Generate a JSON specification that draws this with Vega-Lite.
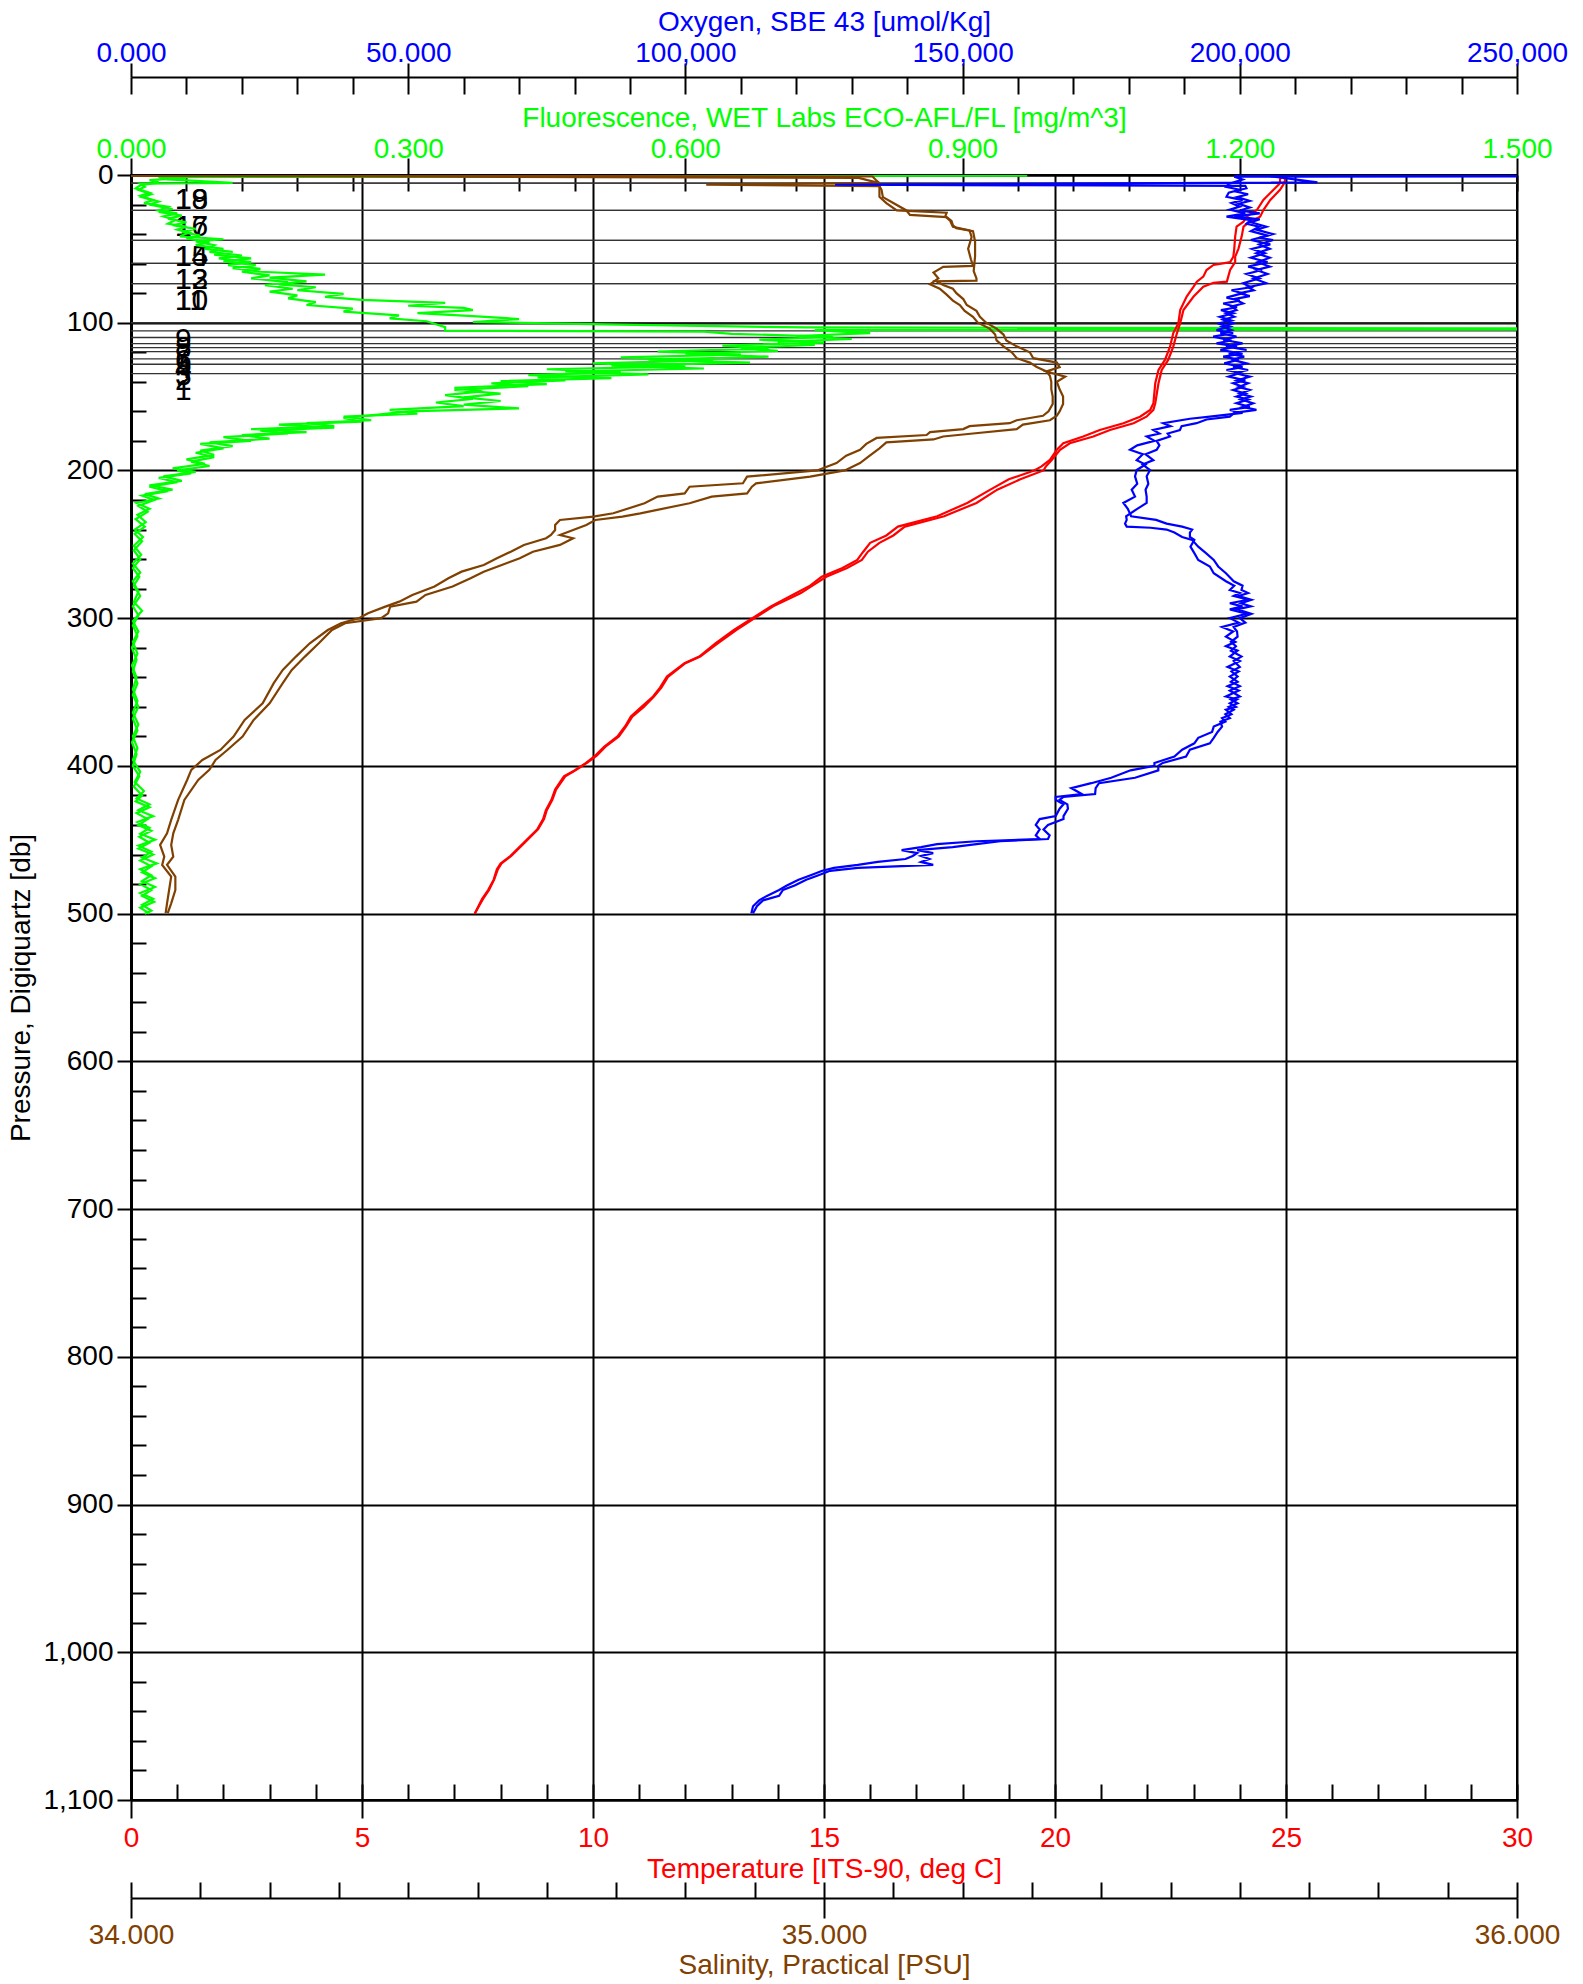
{
"$schema": "https://vega.github.io/schema/vega-lite/v6.json",
"width": 1386, "height": 1625,
"autosize": {"type": "none"},
"padding": {"left": 131, "top": 175, "right": 66, "bottom": 184},
"background": "white",
"config": {
  "view": {"stroke": "black", "strokeWidth": 2},
  "font": "Liberation Sans",
  "axis": {"labelFont": "Liberation Sans", "titleFont": "Liberation Sans", "labelFontSize": 28, "titleFontSize": 28, "titleFontWeight": "normal", "labelFlush": false, "labelOverlap": false, "tickColor": "black", "domainColor": "black", "tickWidth": 2, "domainWidth": 2, "grid": false}
},
"datasets": {
"bottles": [
{"b":"18","p":5.5},{"b":"19","p":5.5},{"b":"16","p":24},{"b":"17","p":24},{"b":"14","p":44.3},{"b":"15","p":44.3},{"b":"12","p":59.8},{"b":"13","p":59.8},{"b":"10","p":73.5},{"b":"11","p":73.5},
{"b":"9","p":100},{"b":"8","p":105.5},{"b":"7","p":110},{"b":"6","p":114.2},{"b":"5","p":116.8},{"b":"4","p":119.5},{"b":"3","p":124.5},{"b":"2","p":128.1},{"b":"1","p":134.4}
],
"fl": [
{"c":1,"p":0,"v":0.02},{"c":1,"p":0.4,"v":0.97},{"c":1,"p":0.9,"v":0.03},{"c":1,"p":2,"v":0.06},{"c":1,"p":3.5,"v":0.02},{"c":1,"p":5,"v":0.03},{"c":1,"p":7,"v":0.01},{"c":1,"p":9,"v":0.005},{"c":1,"p":12,"v":0.02},{"c":1,"p":14,"v":0.01},{"c":1,"p":17,"v":0.024},{"c":1,"p":19,"v":0.014},{"c":1,"p":21.5,"v":0.04},{"c":1,"p":24,"v":0.03},{"c":1,"p":26,"v":0.05},{"c":1,"p":28,"v":0.035},{"c":1,"p":30.5,"v":0.048},{"c":1,"p":33,"v":0.04},{"c":1,"p":35,"v":0.06},{"c":1,"p":37,"v":0.05},{"c":1,"p":39,"v":0.063},{"c":1,"p":41.5,"v":0.053},{"c":1,"p":43.5,"v":0.1},{"c":1,"p":45,"v":0.07},{"c":1,"p":47.5,"v":0.09},{"c":1,"p":50,"v":0.08},{"c":1,"p":52,"v":0.11},{"c":1,"p":54,"v":0.09},{"c":1,"p":56.5,"v":0.13},{"c":1,"p":58.5,"v":0.1},{"c":1,"p":61,"v":0.135},{"c":1,"p":63,"v":0.11},{"c":1,"p":65.5,"v":0.14},{"c":1,"p":67.5,"v":0.21},{"c":1,"p":69.5,"v":0.15},{"c":1,"p":72,"v":0.19},{"c":1,"p":74,"v":0.16},{"c":1,"p":76,"v":0.2},{"c":1,"p":78,"v":0.18},{"c":1,"p":80.5,"v":0.23},{"c":1,"p":82.5,"v":0.21},{"c":1,"p":84.5,"v":0.25},{"c":1,"p":86.5,"v":0.34},{"c":1,"p":88.5,"v":0.3},{"c":1,"p":90,"v":0.36},{"c":1,"p":91.5,"v":0.37},{"c":1,"p":93.5,"v":0.31},{"c":1,"p":95.5,"v":0.37},{"c":1,"p":97.5,"v":0.42},{"c":1,"p":99.5,"v":0.37},{"c":1,"p":101.3,"v":0.53},{"c":1,"p":103.2,"v":0.73},{"c":1,"p":104.3,"v":2.0},{"c":1,"p":105,"v":0.74},{"c":1,"p":107,"v":0.8},{"c":1,"p":109,"v":0.72},{"c":1,"p":111,"v":0.78},{"c":1,"p":113,"v":0.7},{"c":1,"p":115,"v":0.74},{"c":1,"p":117,"v":0.66},{"c":1,"p":119,"v":0.7},{"c":1,"p":121,"v":0.6},{"c":1,"p":123,"v":0.69},{"c":1,"p":125,"v":0.56},{"c":1,"p":127,"v":0.67},{"c":1,"p":129,"v":0.52},{"c":1,"p":131,"v":0.62},{"c":1,"p":133,"v":0.47},{"c":1,"p":135,"v":0.56},{"c":1,"p":137,"v":0.44},{"c":1,"p":139,"v":0.47},{"c":1,"p":141,"v":0.39},{"c":1,"p":143,"v":0.43},{"c":1,"p":145.5,"v":0.35},{"c":1,"p":148,"v":0.4},{"c":1,"p":150.5,"v":0.36},{"c":1,"p":153,"v":0.4},{"c":1,"p":155.5,"v":0.36},{"c":1,"p":158,"v":0.42},{"c":1,"p":160,"v":0.3},{"c":1,"p":162,"v":0.27},{"c":1,"p":164.5,"v":0.23},{"c":1,"p":167,"v":0.25},{"c":1,"p":169,"v":0.16},{"c":1,"p":171,"v":0.22},{"c":1,"p":173,"v":0.14},{"c":1,"p":175,"v":0.17},{"c":1,"p":177.5,"v":0.1},{"c":1,"p":180,"v":0.13},{"c":1,"p":182,"v":0.075},{"c":1,"p":185,"v":0.1},{"c":1,"p":188,"v":0.07},{"c":1,"p":191,"v":0.09},{"c":1,"p":194,"v":0.065},{"c":1,"p":197,"v":0.085},{"c":1,"p":200,"v":0.05},{"c":1,"p":202,"v":0.065},{"c":1,"p":205,"v":0.03},{"c":1,"p":208,"v":0.05},{"c":1,"p":211,"v":0.02},{"c":1,"p":214,"v":0.04},{"c":1,"p":217,"v":0.012},{"c":1,"p":220,"v":0.025},{"c":1,"p":224,"v":0.008},{"c":1,"p":228,"v":0.018},{"c":1,"p":233,"v":0.005},{"c":1,"p":238,"v":0.015},{"c":1,"p":243,"v":0.004},{"c":1,"p":248,"v":0.012},{"c":1,"p":254,"v":0.003},{"c":1,"p":260,"v":0.01},{"c":1,"p":266,"v":0.002},{"c":1,"p":272,"v":0.009},{"c":1,"p":278,"v":0.003},{"c":1,"p":285,"v":0.01},{"c":1,"p":292,"v":0.002},{"c":1,"p":298,"v":0.008},{"c":1,"p":305,"v":0.002},{"c":1,"p":312,"v":0.007},{"c":1,"p":320,"v":0.001},{"c":1,"p":328,"v":0.006},{"c":1,"p":336,"v":0.002},{"c":1,"p":344,"v":0.007},{"c":1,"p":352,"v":0.002},{"c":1,"p":360,"v":0.008},{"c":1,"p":368,"v":0.002},{"c":1,"p":376,"v":0.007},{"c":1,"p":384,"v":0.001},{"c":1,"p":392,"v":0.006},{"c":1,"p":400,"v":0.002},{"c":1,"p":407,"v":0.009},{"c":1,"p":414,"v":0.003},{"c":1,"p":420,"v":0.012},{"c":1,"p":424,"v":0.005},{"c":1,"p":428,"v":0.02},{"c":1,"p":432,"v":0.006},{"c":1,"p":436,"v":0.018},{"c":1,"p":440,"v":0.008},{"c":1,"p":444,"v":0.022},{"c":1,"p":448,"v":0.009},{"c":1,"p":452,"v":0.02},{"c":1,"p":456,"v":0.008},{"c":1,"p":460,"v":0.024},{"c":1,"p":464,"v":0.01},{"c":1,"p":468,"v":0.022},{"c":1,"p":472,"v":0.012},{"c":1,"p":476,"v":0.026},{"c":1,"p":480,"v":0.01},{"c":1,"p":484,"v":0.022},{"c":1,"p":488,"v":0.012},{"c":1,"p":492,"v":0.025},{"c":1,"p":496,"v":0.01},{"c":1,"p":500,"v":0.02},
{"c":2,"p":0,"v":0.01},{"c":2,"p":0.8,"v":0.5},{"c":2,"p":1.4,"v":0.03},{"c":2,"p":3,"v":0.04},{"c":2,"p":5.3,"v":0.11},{"c":2,"p":5.8,"v":0.01},{"c":2,"p":8,"v":0.015},{"c":2,"p":10,"v":0.008},{"c":2,"p":13,"v":0.022},{"c":2,"p":15,"v":0.012},{"c":2,"p":18,"v":0.03},{"c":2,"p":20,"v":0.02},{"c":2,"p":23,"v":0.045},{"c":2,"p":25,"v":0.03},{"c":2,"p":27.5,"v":0.055},{"c":2,"p":29.5,"v":0.04},{"c":2,"p":32,"v":0.06},{"c":2,"p":34,"v":0.045},{"c":2,"p":36.5,"v":0.07},{"c":2,"p":38.5,"v":0.055},{"c":2,"p":41,"v":0.075},{"c":2,"p":43,"v":0.06},{"c":2,"p":45.5,"v":0.085},{"c":2,"p":47.5,"v":0.07},{"c":2,"p":50,"v":0.1},{"c":2,"p":52,"v":0.085},{"c":2,"p":54.5,"v":0.12},{"c":2,"p":56.5,"v":0.095},{"c":2,"p":59,"v":0.13},{"c":2,"p":61,"v":0.105},{"c":2,"p":63.5,"v":0.14},{"c":2,"p":65.5,"v":0.12},{"c":2,"p":68,"v":0.15},{"c":2,"p":70,"v":0.13},{"c":2,"p":72.5,"v":0.17},{"c":2,"p":74.5,"v":0.145},{"c":2,"p":77,"v":0.175},{"c":2,"p":79,"v":0.15},{"c":2,"p":81.5,"v":0.18},{"c":2,"p":83.5,"v":0.17},{"c":2,"p":86,"v":0.2},{"c":2,"p":88,"v":0.19},{"c":2,"p":90.5,"v":0.24},{"c":2,"p":92.5,"v":0.23},{"c":2,"p":95,"v":0.29},{"c":2,"p":97,"v":0.28},{"c":2,"p":99,"v":0.32},{"c":2,"p":101,"v":0.33},{"c":2,"p":103,"v":0.34},{"c":2,"p":105.3,"v":0.34},{"c":2,"p":106,"v":0.62},{"c":2,"p":107.5,"v":0.65},{"c":2,"p":109.5,"v":0.76},{"c":2,"p":111.5,"v":0.68},{"c":2,"p":113.5,"v":0.75},{"c":2,"p":115.5,"v":0.64},{"c":2,"p":117.5,"v":0.69},{"c":2,"p":119.5,"v":0.57},{"c":2,"p":121.5,"v":0.66},{"c":2,"p":123.5,"v":0.53},{"c":2,"p":125.5,"v":0.63},{"c":2,"p":127.5,"v":0.5},{"c":2,"p":129.5,"v":0.6},{"c":2,"p":131.5,"v":0.45},{"c":2,"p":133.5,"v":0.53},{"c":2,"p":135.5,"v":0.43},{"c":2,"p":137.5,"v":0.52},{"c":2,"p":139.5,"v":0.4},{"c":2,"p":141.5,"v":0.45},{"c":2,"p":144,"v":0.35},{"c":2,"p":146.5,"v":0.38},{"c":2,"p":149,"v":0.34},{"c":2,"p":151.5,"v":0.37},{"c":2,"p":154,"v":0.33},{"c":2,"p":156.5,"v":0.36},{"c":2,"p":159,"v":0.28},{"c":2,"p":161.5,"v":0.31},{"c":2,"p":163.5,"v":0.23},{"c":2,"p":166,"v":0.26},{"c":2,"p":168,"v":0.19},{"c":2,"p":170,"v":0.22},{"c":2,"p":172,"v":0.13},{"c":2,"p":174,"v":0.19},{"c":2,"p":176,"v":0.12},{"c":2,"p":178.5,"v":0.15},{"c":2,"p":181,"v":0.085},{"c":2,"p":183.5,"v":0.11},{"c":2,"p":186.5,"v":0.075},{"c":2,"p":189.5,"v":0.09},{"c":2,"p":192.5,"v":0.06},{"c":2,"p":195.5,"v":0.08},{"c":2,"p":198.5,"v":0.045},{"c":2,"p":201,"v":0.07},{"c":2,"p":204,"v":0.035},{"c":2,"p":207,"v":0.055},{"c":2,"p":210,"v":0.02},{"c":2,"p":213,"v":0.045},{"c":2,"p":216,"v":0.015},{"c":2,"p":219,"v":0.03},{"c":2,"p":222,"v":0.006},{"c":2,"p":226,"v":0.02},{"c":2,"p":230,"v":0.007},{"c":2,"p":235,"v":0.016},{"c":2,"p":240,"v":0.004},{"c":2,"p":245,"v":0.013},{"c":2,"p":251,"v":0.003},{"c":2,"p":257,"v":0.011},{"c":2,"p":263,"v":0.002},{"c":2,"p":269,"v":0.01},{"c":2,"p":275,"v":0.002},{"c":2,"p":282,"v":0.008},{"c":2,"p":289,"v":0.003},{"c":2,"p":295,"v":0.012},{"c":2,"p":302,"v":0.002},{"c":2,"p":309,"v":0.008},{"c":2,"p":316,"v":0.002},{"c":2,"p":324,"v":0.007},{"c":2,"p":332,"v":0.001},{"c":2,"p":340,"v":0.006},{"c":2,"p":348,"v":0.002},{"c":2,"p":356,"v":0.007},{"c":2,"p":364,"v":0.002},{"c":2,"p":372,"v":0.008},{"c":2,"p":380,"v":0.002},{"c":2,"p":388,"v":0.007},{"c":2,"p":396,"v":0.002},{"c":2,"p":404,"v":0.01},{"c":2,"p":411,"v":0.004},{"c":2,"p":417,"v":0.014},{"c":2,"p":422,"v":0.006},{"c":2,"p":426,"v":0.02},{"c":2,"p":430,"v":0.008},{"c":2,"p":434,"v":0.024},{"c":2,"p":438,"v":0.007},{"c":2,"p":442,"v":0.02},{"c":2,"p":446,"v":0.01},{"c":2,"p":450,"v":0.026},{"c":2,"p":454,"v":0.008},{"c":2,"p":458,"v":0.022},{"c":2,"p":462,"v":0.012},{"c":2,"p":466,"v":0.028},{"c":2,"p":470,"v":0.01},{"c":2,"p":474,"v":0.022},{"c":2,"p":478,"v":0.012},{"c":2,"p":482,"v":0.026},{"c":2,"p":486,"v":0.01},{"c":2,"p":490,"v":0.024},{"c":2,"p":494,"v":0.012},{"c":2,"p":498,"v":0.022},{"c":2,"p":500,"v":0.015}
],
"sa": [
{"c":1,"p":0.2,"v":33.9},{"c":1,"p":1.0,"v":35.07},{"c":1,"p":3.4,"v":35.075},{"c":1,"p":5.6,"v":35.08},{"c":1,"p":10,"v":35.08},{"c":1,"p":14.7,"v":35.08},{"c":1,"p":19,"v":35.09},{"c":1,"p":24,"v":35.105},{"c":1,"p":25.5,"v":35.177},{"c":1,"p":28,"v":35.175},{"c":1,"p":31,"v":35.182},{"c":1,"p":35,"v":35.186},{"c":1,"p":37.5,"v":35.21},{"c":1,"p":42,"v":35.213},{"c":1,"p":50,"v":35.208},{"c":1,"p":57,"v":35.212},{"c":1,"p":61.5,"v":35.215},{"c":1,"p":62.2,"v":35.172},{"c":1,"p":66,"v":35.158},{"c":1,"p":70,"v":35.165},{"c":1,"p":74,"v":35.153},{"c":1,"p":77,"v":35.167},{"c":1,"p":81,"v":35.177},{"c":1,"p":85,"v":35.186},{"c":1,"p":88,"v":35.196},{"c":1,"p":92,"v":35.203},{"c":1,"p":96,"v":35.215},{"c":1,"p":100,"v":35.222},{"c":1,"p":104,"v":35.239},{"c":1,"p":108,"v":35.247},{"c":1,"p":112,"v":35.249},{"c":1,"p":116,"v":35.259},{"c":1,"p":120,"v":35.271},{"c":1,"p":124,"v":35.278},{"c":1,"p":127,"v":35.297},{"c":1,"p":130,"v":35.307},{"c":1,"p":133,"v":35.321},{"c":1,"p":136,"v":35.326},{"c":1,"p":140,"v":35.328},{"c":1,"p":145,"v":35.328},{"c":1,"p":150,"v":35.33},{"c":1,"p":155,"v":35.33},{"c":1,"p":160,"v":35.324},{"c":1,"p":163,"v":35.316},{"c":1,"p":166,"v":35.278},{"c":1,"p":168,"v":35.268},{"c":1,"p":170,"v":35.21},{"c":1,"p":172,"v":35.201},{"c":1,"p":174,"v":35.153},{"c":1,"p":176,"v":35.148},{"c":1,"p":178,"v":35.076},{"c":1,"p":182,"v":35.061},{"c":1,"p":186,"v":35.052},{"c":1,"p":190,"v":35.032},{"c":1,"p":195,"v":35.018},{"c":1,"p":200,"v":34.99},{"c":1,"p":204.2,"v":34.889},{"c":1,"p":208.7,"v":34.883},{"c":1,"p":211,"v":34.806},{"c":1,"p":215.5,"v":34.799},{"c":1,"p":217.7,"v":34.76},{"c":1,"p":222.2,"v":34.741},{"c":1,"p":229,"v":34.696},{"c":1,"p":231.2,"v":34.667},{"c":1,"p":233.5,"v":34.619},{"c":1,"p":236.9,"v":34.612},{"c":1,"p":240.3,"v":34.612},{"c":1,"p":243.7,"v":34.606},{"c":1,"p":245.9,"v":34.599},{"c":1,"p":250.4,"v":34.567},{"c":1,"p":255,"v":34.548},{"c":1,"p":259.4,"v":34.528},{"c":1,"p":264,"v":34.509},{"c":1,"p":268.5,"v":34.477},{"c":1,"p":273,"v":34.458},{"c":1,"p":278.6,"v":34.438},{"c":1,"p":284.3,"v":34.406},{"c":1,"p":288.8,"v":34.387},{"c":1,"p":292.2,"v":34.367},{"c":1,"p":296.7,"v":34.342},{"c":1,"p":300,"v":34.329},{"c":1,"p":303.4,"v":34.303},{"c":1,"p":308,"v":34.284},{"c":1,"p":317,"v":34.258},{"c":1,"p":326,"v":34.238},{"c":1,"p":335,"v":34.219},{"c":1,"p":344,"v":34.206},{"c":1,"p":357.6,"v":34.19},{"c":1,"p":368.9,"v":34.164},{"c":1,"p":380.1,"v":34.148},{"c":1,"p":389.2,"v":34.129},{"c":1,"p":396,"v":34.103},{"c":1,"p":402.7,"v":34.087},{"c":1,"p":409.5,"v":34.081},{"c":1,"p":423,"v":34.068},{"c":1,"p":436.5,"v":34.058},{"c":1,"p":445.6,"v":34.052},{"c":1,"p":453.5,"v":34.042},{"c":1,"p":461.4,"v":34.048},{"c":1,"p":467,"v":34.045},{"c":1,"p":474.9,"v":34.058},{"c":1,"p":484,"v":34.055},{"c":1,"p":493,"v":34.052},{"c":1,"p":499.7,"v":34.05},
{"c":2,"p":0.4,"v":33.9},{"c":2,"p":2.0,"v":35.05},{"c":2,"p":5.5,"v":35.08},{"c":2,"p":6.5,"v":34.83},{"c":2,"p":7.5,"v":35.08},{"c":2,"p":10,"v":35.083},{"c":2,"p":15,"v":35.085},{"c":2,"p":19,"v":35.1},{"c":2,"p":24,"v":35.119},{"c":2,"p":27,"v":35.124},{"c":2,"p":28.5,"v":35.177},{"c":2,"p":31,"v":35.184},{"c":2,"p":34,"v":35.186},{"c":2,"p":36,"v":35.191},{"c":2,"p":38,"v":35.215},{"c":2,"p":45,"v":35.218},{"c":2,"p":55,"v":35.218},{"c":2,"p":65,"v":35.216},{"c":2,"p":70,"v":35.22},{"c":2,"p":71.5,"v":35.22},{"c":2,"p":72,"v":35.162},{"c":2,"p":74.5,"v":35.172},{"c":2,"p":77,"v":35.186},{"c":2,"p":80,"v":35.191},{"c":2,"p":84,"v":35.201},{"c":2,"p":88,"v":35.206},{"c":2,"p":92,"v":35.22},{"c":2,"p":96,"v":35.225},{"c":2,"p":100,"v":35.234},{"c":2,"p":104,"v":35.249},{"c":2,"p":108,"v":35.259},{"c":2,"p":112,"v":35.263},{"c":2,"p":116,"v":35.278},{"c":2,"p":120,"v":35.297},{"c":2,"p":124,"v":35.302},{"c":2,"p":127,"v":35.336},{"c":2,"p":130,"v":35.34},{"c":2,"p":133,"v":35.321},{"c":2,"p":136.5,"v":35.348},{"c":2,"p":140,"v":35.336},{"c":2,"p":145,"v":35.34},{"c":2,"p":150,"v":35.345},{"c":2,"p":155,"v":35.345},{"c":2,"p":160,"v":35.34},{"c":2,"p":163,"v":35.336},{"c":2,"p":166,"v":35.326},{"c":2,"p":169,"v":35.287},{"c":2,"p":172,"v":35.278},{"c":2,"p":175,"v":35.215},{"c":2,"p":177,"v":35.172},{"c":2,"p":179,"v":35.158},{"c":2,"p":181,"v":35.09},{"c":2,"p":185,"v":35.08},{"c":2,"p":190,"v":35.066},{"c":2,"p":195,"v":35.052},{"c":2,"p":200,"v":35.03},{"c":2,"p":204.2,"v":34.98},{"c":2,"p":208.7,"v":34.902},{"c":2,"p":211,"v":34.896},{"c":2,"p":215.5,"v":34.889},{"c":2,"p":217.7,"v":34.838},{"c":2,"p":222.2,"v":34.806},{"c":2,"p":229,"v":34.735},{"c":2,"p":231.2,"v":34.709},{"c":2,"p":233.5,"v":34.67},{"c":2,"p":236.9,"v":34.657},{"c":2,"p":240.3,"v":34.638},{"c":2,"p":243.7,"v":34.619},{"c":2,"p":245.9,"v":34.638},{"c":2,"p":250.4,"v":34.619},{"c":2,"p":255,"v":34.58},{"c":2,"p":259.4,"v":34.561},{"c":2,"p":264,"v":34.535},{"c":2,"p":268.5,"v":34.509},{"c":2,"p":273,"v":34.49},{"c":2,"p":278.6,"v":34.464},{"c":2,"p":284.3,"v":34.425},{"c":2,"p":288.8,"v":34.412},{"c":2,"p":292.2,"v":34.374},{"c":2,"p":296.7,"v":34.371},{"c":2,"p":300,"v":34.361},{"c":2,"p":303.4,"v":34.309},{"c":2,"p":308,"v":34.29},{"c":2,"p":317,"v":34.271},{"c":2,"p":326,"v":34.251},{"c":2,"p":335,"v":34.232},{"c":2,"p":344,"v":34.219},{"c":2,"p":357.6,"v":34.2},{"c":2,"p":368.9,"v":34.177},{"c":2,"p":380.1,"v":34.161},{"c":2,"p":389.2,"v":34.139},{"c":2,"p":396,"v":34.122},{"c":2,"p":402.7,"v":34.113},{"c":2,"p":409.5,"v":34.097},{"c":2,"p":423,"v":34.077},{"c":2,"p":436.5,"v":34.068},{"c":2,"p":445.6,"v":34.061},{"c":2,"p":453.5,"v":34.058},{"c":2,"p":461.4,"v":34.061},{"c":2,"p":467,"v":34.052},{"c":2,"p":474.9,"v":34.064},{"c":2,"p":484,"v":34.064},{"c":2,"p":493,"v":34.058},{"c":2,"p":499.7,"v":34.053}
],
"te": [
{"c":1,"p":0.3,"v":24.9},{"c":1,"p":3.4,"v":24.87},{"c":1,"p":5.6,"v":24.87},{"c":1,"p":10,"v":24.73},{"c":1,"p":16.9,"v":24.51},{"c":1,"p":23.7,"v":24.37},{"c":1,"p":28.2,"v":24.15},{"c":1,"p":31.6,"v":24.08},{"c":1,"p":35,"v":23.93},{"c":1,"p":41.7,"v":23.9},{"c":1,"p":50,"v":23.88},{"c":1,"p":55.3,"v":23.86},{"c":1,"p":59,"v":23.79},{"c":1,"p":60.9,"v":23.43},{"c":1,"p":64.3,"v":23.28},{"c":1,"p":68.8,"v":23.21},{"c":1,"p":72.2,"v":23.07},{"c":1,"p":75.6,"v":23.0},{"c":1,"p":82.3,"v":22.85},{"c":1,"p":91.4,"v":22.71},{"c":1,"p":100.4,"v":22.67},{"c":1,"p":107,"v":22.56},{"c":1,"p":116.2,"v":22.49},{"c":1,"p":125.2,"v":22.38},{"c":1,"p":132,"v":22.24},{"c":1,"p":141,"v":22.17},{"c":1,"p":154.5,"v":22.13},{"c":1,"p":159,"v":22.06},{"c":1,"p":163.6,"v":21.84},{"c":1,"p":168,"v":21.48},{"c":1,"p":172.6,"v":20.97},{"c":1,"p":177,"v":20.61},{"c":1,"p":181.6,"v":20.18},{"c":1,"p":186,"v":20.04},{"c":1,"p":192.9,"v":19.89},{"c":1,"p":197.4,"v":19.7},{"c":1,"p":200,"v":19.55},{"c":1,"p":206,"v":19.0},{"c":1,"p":213,"v":18.6},{"c":1,"p":222,"v":18.1},{"c":1,"p":231,"v":17.45},{"c":1,"p":238,"v":16.6},{"c":1,"p":244,"v":16.35},{"c":1,"p":249,"v":16.0},{"c":1,"p":255,"v":15.85},{"c":1,"p":260.6,"v":15.72},{"c":1,"p":266,"v":15.4},{"c":1,"p":272,"v":14.95},{"c":1,"p":278,"v":14.7},{"c":1,"p":283,"v":14.4},{"c":1,"p":292,"v":13.85},{"c":1,"p":300,"v":13.45},{"c":1,"p":308,"v":13.05},{"c":1,"p":317,"v":12.65},{"c":1,"p":326,"v":12.3},{"c":1,"p":330.5,"v":11.98},{"c":1,"p":339.5,"v":11.6},{"c":1,"p":347,"v":11.45},{"c":1,"p":353,"v":11.3},{"c":1,"p":360,"v":11.05},{"c":1,"p":366.6,"v":10.82},{"c":1,"p":373,"v":10.7},{"c":1,"p":380,"v":10.53},{"c":1,"p":387,"v":10.24},{"c":1,"p":393,"v":10.05},{"c":1,"p":398,"v":9.85},{"c":1,"p":403,"v":9.6},{"c":1,"p":407,"v":9.37},{"c":1,"p":416,"v":9.18},{"c":1,"p":423,"v":9.1},{"c":1,"p":430,"v":8.98},{"c":1,"p":436,"v":8.92},{"c":1,"p":443,"v":8.79},{"c":1,"p":452,"v":8.5},{"c":1,"p":461,"v":8.21},{"c":1,"p":466,"v":8.0},{"c":1,"p":470,"v":7.92},{"c":1,"p":477,"v":7.85},{"c":1,"p":484,"v":7.73},{"c":1,"p":490,"v":7.6},{"c":1,"p":495,"v":7.52},{"c":1,"p":500,"v":7.44},
{"c":2,"p":0.3,"v":24.95},{"c":2,"p":3.4,"v":24.98},{"c":2,"p":5.6,"v":24.96},{"c":2,"p":10,"v":24.87},{"c":2,"p":16.9,"v":24.66},{"c":2,"p":23.7,"v":24.51},{"c":2,"p":28.2,"v":24.44},{"c":2,"p":31.6,"v":24.22},{"c":2,"p":35,"v":24.08},{"c":2,"p":41.7,"v":24.04},{"c":2,"p":50,"v":23.97},{"c":2,"p":55.3,"v":23.9},{"c":2,"p":59,"v":23.9},{"c":2,"p":60.9,"v":23.86},{"c":2,"p":64.3,"v":23.79},{"c":2,"p":68.8,"v":23.75},{"c":2,"p":72.2,"v":23.72},{"c":2,"p":73,"v":23.43},{"c":2,"p":75.6,"v":23.21},{"c":2,"p":82.3,"v":23.0},{"c":2,"p":91.4,"v":22.78},{"c":2,"p":100.4,"v":22.71},{"c":2,"p":107,"v":22.64},{"c":2,"p":116.2,"v":22.56},{"c":2,"p":125.2,"v":22.45},{"c":2,"p":132,"v":22.31},{"c":2,"p":141,"v":22.24},{"c":2,"p":154.5,"v":22.17},{"c":2,"p":159,"v":22.13},{"c":2,"p":163.6,"v":21.98},{"c":2,"p":168,"v":21.7},{"c":2,"p":172.6,"v":21.19},{"c":2,"p":177,"v":20.83},{"c":2,"p":181.6,"v":20.32},{"c":2,"p":186,"v":20.11},{"c":2,"p":192.9,"v":19.93},{"c":2,"p":197.4,"v":19.8},{"c":2,"p":200,"v":19.75},{"c":2,"p":206,"v":19.25},{"c":2,"p":213,"v":18.75},{"c":2,"p":222,"v":18.3},{"c":2,"p":231,"v":17.6},{"c":2,"p":238,"v":16.75},{"c":2,"p":244,"v":16.5},{"c":2,"p":249,"v":16.2},{"c":2,"p":255,"v":15.95},{"c":2,"p":260.6,"v":15.82},{"c":2,"p":266,"v":15.5},{"c":2,"p":272,"v":15.05},{"c":2,"p":278,"v":14.75},{"c":2,"p":283,"v":14.5},{"c":2,"p":292,"v":13.9},{"c":2,"p":300,"v":13.5},{"c":2,"p":308,"v":13.1},{"c":2,"p":317,"v":12.7},{"c":2,"p":326,"v":12.32},{"c":2,"p":330.5,"v":12.0},{"c":2,"p":339.5,"v":11.63},{"c":2,"p":347,"v":11.48},{"c":2,"p":353,"v":11.32},{"c":2,"p":360,"v":11.1},{"c":2,"p":366.6,"v":10.85},{"c":2,"p":373,"v":10.72},{"c":2,"p":380,"v":10.56},{"c":2,"p":387,"v":10.27},{"c":2,"p":393,"v":10.08},{"c":2,"p":398,"v":9.87},{"c":2,"p":403,"v":9.62},{"c":2,"p":407,"v":9.4},{"c":2,"p":416,"v":9.2},{"c":2,"p":423,"v":9.12},{"c":2,"p":430,"v":9.0},{"c":2,"p":436,"v":8.94},{"c":2,"p":443,"v":8.81},{"c":2,"p":452,"v":8.52},{"c":2,"p":461,"v":8.23},{"c":2,"p":466,"v":8.02},{"c":2,"p":470,"v":7.94},{"c":2,"p":477,"v":7.86},{"c":2,"p":484,"v":7.75},{"c":2,"p":490,"v":7.62},{"c":2,"p":495,"v":7.53},{"c":2,"p":500,"v":7.44}
],
"ox": [
{"c":1,"p":0.2,"v":199},{"c":1,"p":0.6,"v":300},{"c":1,"p":1.2,"v":199},{"c":1,"p":3,"v":200.5},{"c":1,"p":6,"v":198},{"c":1,"p":8,"v":197.5},{"c":1,"p":10,"v":200},{"c":1,"p":12,"v":198},{"c":1,"p":14.7,"v":197.6},{"c":1,"p":17,"v":200.5},{"c":1,"p":19,"v":198.5},{"c":1,"p":21.4,"v":200},{"c":1,"p":23.5,"v":198.2},{"c":1,"p":26,"v":201},{"c":1,"p":28.2,"v":197.6},{"c":1,"p":30.5,"v":202},{"c":1,"p":33,"v":201.2},{"c":1,"p":35,"v":203.5},{"c":1,"p":38,"v":202},{"c":1,"p":41,"v":205},{"c":1,"p":44,"v":202},{"c":1,"p":47,"v":205.5},{"c":1,"p":50,"v":202.2},{"c":1,"p":53,"v":204.5},{"c":1,"p":56,"v":202},{"c":1,"p":59,"v":205},{"c":1,"p":62,"v":201.5},{"c":1,"p":64.3,"v":204},{"c":1,"p":67,"v":201.2},{"c":1,"p":70,"v":203.5},{"c":1,"p":73.3,"v":200.6},{"c":1,"p":76,"v":202},{"c":1,"p":78,"v":198.5},{"c":1,"p":80,"v":200.5},{"c":1,"p":83,"v":197.6},{"c":1,"p":85,"v":200},{"c":1,"p":87,"v":197},{"c":1,"p":89.5,"v":199.5},{"c":1,"p":91.5,"v":196.6},{"c":1,"p":93.6,"v":198.8},{"c":1,"p":96,"v":196.4},{"c":1,"p":98.5,"v":198.5},{"c":1,"p":100.5,"v":196},{"c":1,"p":102.6,"v":198.2},{"c":1,"p":105,"v":195.8},{"c":1,"p":107,"v":198.8},{"c":1,"p":109.4,"v":195.2},{"c":1,"p":112,"v":198.5},{"c":1,"p":114,"v":195.8},{"c":1,"p":116,"v":199.5},{"c":1,"p":118.4,"v":196.5},{"c":1,"p":121,"v":200.5},{"c":1,"p":123,"v":197},{"c":1,"p":125,"v":199.8},{"c":1,"p":127.5,"v":197.2},{"c":1,"p":130,"v":200.5},{"c":1,"p":132,"v":197.6},{"c":1,"p":134,"v":200},{"c":1,"p":136.5,"v":198},{"c":1,"p":139,"v":201},{"c":1,"p":141,"v":198.8},{"c":1,"p":143.5,"v":200.6},{"c":1,"p":145.5,"v":198.8},{"c":1,"p":148,"v":201},{"c":1,"p":150,"v":199.4},{"c":1,"p":152,"v":201.5},{"c":1,"p":154.5,"v":199.4},{"c":1,"p":157,"v":201.8},{"c":1,"p":159,"v":198.2},{"c":1,"p":161,"v":200.5},{"c":1,"p":163.6,"v":194.6},{"c":1,"p":165,"v":191},{"c":1,"p":168,"v":186.2},{"c":1,"p":170,"v":187.5},{"c":1,"p":172.6,"v":184.4},{"c":1,"p":175,"v":185.5},{"c":1,"p":177,"v":183.2},{"c":1,"p":180,"v":184.6},{"c":1,"p":183,"v":181.5},{"c":1,"p":186,"v":180.2},{"c":1,"p":189,"v":182.5},{"c":1,"p":193,"v":181.4},{"c":1,"p":196,"v":183},{"c":1,"p":199.7,"v":181.4},{"c":1,"p":204,"v":181.1},{"c":1,"p":209,"v":181.5},{"c":1,"p":213,"v":180.5},{"c":1,"p":217.7,"v":181.1},{"c":1,"p":222,"v":179.0},{"c":1,"p":226,"v":179.8},{"c":1,"p":231,"v":180.4},{"c":1,"p":233.5,"v":184.9},{"c":1,"p":236,"v":186.8},{"c":1,"p":238,"v":189.6},{"c":1,"p":240,"v":191.4},{"c":1,"p":242,"v":191.0},{"c":1,"p":245,"v":191.0},{"c":1,"p":247,"v":191.8},{"c":1,"p":251.6,"v":191.1},{"c":1,"p":256,"v":191.8},{"c":1,"p":260.6,"v":192.5},{"c":1,"p":265,"v":194.6},{"c":1,"p":269.6,"v":195.3},{"c":1,"p":275,"v":197.5},{"c":1,"p":278,"v":199.0},{"c":1,"p":280.9,"v":198.2},{"c":1,"p":283,"v":200.0},{"c":1,"p":285,"v":198.9},{"c":1,"p":287.5,"v":201.5},{"c":1,"p":289.9,"v":198.2},{"c":1,"p":292,"v":200.5},{"c":1,"p":294,"v":198.2},{"c":1,"p":297,"v":201.2},{"c":1,"p":300,"v":198.2},{"c":1,"p":303,"v":199.8},{"c":1,"p":306,"v":196.8},{"c":1,"p":309,"v":198.8},{"c":1,"p":312.5,"v":197.5},{"c":1,"p":316,"v":199.2},{"c":1,"p":319,"v":197.5},{"c":1,"p":322,"v":199.6},{"c":1,"p":326,"v":198.2},{"c":1,"p":329,"v":200},{"c":1,"p":333,"v":197.8},{"c":1,"p":336,"v":199.8},{"c":1,"p":339.5,"v":198.2},{"c":1,"p":343,"v":199.6},{"c":1,"p":346,"v":197.8},{"c":1,"p":349,"v":199.8},{"c":1,"p":353,"v":197.5},{"c":1,"p":355,"v":199.5},{"c":1,"p":357.6,"v":198.2},{"c":1,"p":360,"v":199.3},{"c":1,"p":362,"v":197.5},{"c":1,"p":365,"v":198.5},{"c":1,"p":367.7,"v":196.8},{"c":1,"p":370,"v":197.4},{"c":1,"p":373.4,"v":195.3},{"c":1,"p":377,"v":195},{"c":1,"p":381,"v":192.5},{"c":1,"p":384.7,"v":191.8},{"c":1,"p":389,"v":189.6},{"c":1,"p":393.7,"v":188.2},{"c":1,"p":398,"v":184.6},{"c":1,"p":400,"v":184.6},{"c":1,"p":403,"v":180.3},{"c":1,"p":408,"v":176.8},{"c":1,"p":411.7,"v":173.2},{"c":1,"p":415,"v":169.6},{"c":1,"p":419,"v":171.5},{"c":1,"p":421,"v":166.8},{"c":1,"p":423,"v":166.8},{"c":1,"p":426,"v":168.2},{"c":1,"p":429,"v":167.5},{"c":1,"p":434,"v":166.8},{"c":1,"p":436,"v":163.9},{"c":1,"p":440,"v":163.2},{"c":1,"p":443,"v":163.9},{"c":1,"p":447,"v":163.2},{"c":1,"p":449.5,"v":163.9},{"c":1,"p":451,"v":152.5},{"c":1,"p":453,"v":145.4},{"c":1,"p":455,"v":142.5},{"c":1,"p":457,"v":139},{"c":1,"p":459,"v":141.8},{"c":1,"p":461,"v":141},{"c":1,"p":463,"v":139.7},{"c":1,"p":465,"v":134.7},{"c":1,"p":467,"v":131.1},{"c":1,"p":469,"v":126.8},{"c":1,"p":471,"v":124.7},{"c":1,"p":474,"v":122.6},{"c":1,"p":477,"v":120.4},{"c":1,"p":481,"v":118.3},{"c":1,"p":484,"v":116.9},{"c":1,"p":488,"v":114.7},{"c":1,"p":491,"v":113.3},{"c":1,"p":495,"v":112.2},{"c":1,"p":499.7,"v":111.9},
{"c":2,"p":0.5,"v":205},{"c":2,"p":5.0,"v":214},{"c":2,"p":6.6,"v":127},{"c":2,"p":7.4,"v":201},{"c":2,"p":9,"v":201.2},{"c":2,"p":11,"v":199},{"c":2,"p":13,"v":201.5},{"c":2,"p":15,"v":199.5},{"c":2,"p":17.5,"v":201.8},{"c":2,"p":19.5,"v":199.8},{"c":2,"p":22,"v":201.8},{"c":2,"p":24,"v":200},{"c":2,"p":26,"v":203.6},{"c":2,"p":28,"v":199},{"c":2,"p":30,"v":203.6},{"c":2,"p":32,"v":202},{"c":2,"p":35,"v":204.8},{"c":2,"p":37,"v":203},{"c":2,"p":40,"v":206},{"c":2,"p":42.5,"v":203.5},{"c":2,"p":44,"v":206},{"c":2,"p":47,"v":203.5},{"c":2,"p":50,"v":205.4},{"c":2,"p":53,"v":203},{"c":2,"p":56,"v":205.4},{"c":2,"p":59,"v":203.2},{"c":2,"p":62,"v":205.4},{"c":2,"p":64.3,"v":203},{"c":2,"p":67,"v":205},{"c":2,"p":70,"v":202.5},{"c":2,"p":73.3,"v":204.8},{"c":2,"p":76,"v":201.5},{"c":2,"p":78,"v":202.5},{"c":2,"p":80,"v":200},{"c":2,"p":82,"v":201.8},{"c":2,"p":84,"v":199},{"c":2,"p":87,"v":200.6},{"c":2,"p":89,"v":198.5},{"c":2,"p":91.5,"v":199.4},{"c":2,"p":93.6,"v":197.5},{"c":2,"p":96,"v":199},{"c":2,"p":98,"v":197},{"c":2,"p":100.5,"v":198.8},{"c":2,"p":102.6,"v":196.8},{"c":2,"p":105,"v":198.5},{"c":2,"p":107,"v":196.5},{"c":2,"p":109.4,"v":199.4},{"c":2,"p":111.5,"v":197},{"c":2,"p":114,"v":200.5},{"c":2,"p":116,"v":197.5},{"c":2,"p":118.4,"v":201.2},{"c":2,"p":121,"v":198},{"c":2,"p":123,"v":200.8},{"c":2,"p":125,"v":198.5},{"c":2,"p":127.5,"v":201.2},{"c":2,"p":130,"v":198.8},{"c":2,"p":132,"v":201.5},{"c":2,"p":134,"v":199},{"c":2,"p":136.5,"v":201.8},{"c":2,"p":139,"v":199.5},{"c":2,"p":141,"v":201.5},{"c":2,"p":143.5,"v":199.8},{"c":2,"p":145.5,"v":201.8},{"c":2,"p":148,"v":200},{"c":2,"p":150,"v":202},{"c":2,"p":152,"v":200.2},{"c":2,"p":154.5,"v":202.4},{"c":2,"p":157,"v":200.5},{"c":2,"p":159,"v":203},{"c":2,"p":161,"v":199},{"c":2,"p":163.6,"v":198.2},{"c":2,"p":165.5,"v":194},{"c":2,"p":168,"v":192.2},{"c":2,"p":170,"v":189.5},{"c":2,"p":172.6,"v":189.2},{"c":2,"p":175,"v":187},{"c":2,"p":177,"v":187.4},{"c":2,"p":180,"v":185},{"c":2,"p":183,"v":185.5},{"c":2,"p":186,"v":185},{"c":2,"p":189,"v":183},{"c":2,"p":193,"v":184.4},{"c":2,"p":196,"v":182.5},{"c":2,"p":199.7,"v":183.8},{"c":2,"p":204,"v":183.2},{"c":2,"p":209,"v":183.5},{"c":2,"p":213,"v":183},{"c":2,"p":217.7,"v":183.2},{"c":2,"p":222,"v":183.2},{"c":2,"p":226,"v":181.5},{"c":2,"p":231,"v":179.5},{"c":2,"p":233.5,"v":179.6},{"c":2,"p":236,"v":179.3},{"c":2,"p":238,"v":179.6},{"c":2,"p":238.8,"v":183.9},{"c":2,"p":240,"v":186.8},{"c":2,"p":242,"v":188.2},{"c":2,"p":245,"v":189.6},{"c":2,"p":247,"v":191.4},{"c":2,"p":251.6,"v":192.5},{"c":2,"p":256,"v":193.9},{"c":2,"p":260.6,"v":195.3},{"c":2,"p":265,"v":196.1},{"c":2,"p":269.6,"v":197.5},{"c":2,"p":275,"v":198.9},{"c":2,"p":278,"v":200.5},{"c":2,"p":280.9,"v":200.3},{"c":2,"p":283,"v":201.5},{"c":2,"p":285,"v":199.8},{"c":2,"p":287.5,"v":202.1},{"c":2,"p":289.9,"v":200.2},{"c":2,"p":292,"v":202},{"c":2,"p":294,"v":199.5},{"c":2,"p":297,"v":202.1},{"c":2,"p":300,"v":200},{"c":2,"p":303,"v":201},{"c":2,"p":306,"v":198.9},{"c":2,"p":309,"v":199.5},{"c":2,"p":312.5,"v":199.6},{"c":2,"p":316,"v":198.4},{"c":2,"p":319,"v":199.3},{"c":2,"p":322,"v":198.4},{"c":2,"p":326,"v":200.3},{"c":2,"p":329,"v":198.9},{"c":2,"p":333,"v":200},{"c":2,"p":336,"v":198.5},{"c":2,"p":339.5,"v":199.6},{"c":2,"p":343,"v":198.4},{"c":2,"p":346,"v":200},{"c":2,"p":349,"v":198.2},{"c":2,"p":353,"v":200},{"c":2,"p":355,"v":198.4},{"c":2,"p":357.6,"v":199.6},{"c":2,"p":360,"v":198},{"c":2,"p":362,"v":198.9},{"c":2,"p":365,"v":197.4},{"c":2,"p":367.7,"v":198.2},{"c":2,"p":370,"v":196.5},{"c":2,"p":373.4,"v":196.8},{"c":2,"p":377,"v":196},{"c":2,"p":381,"v":195.3},{"c":2,"p":384.7,"v":194.6},{"c":2,"p":389,"v":191},{"c":2,"p":393.7,"v":190.3},{"c":2,"p":398,"v":186.1},{"c":2,"p":400,"v":185.3},{"c":2,"p":403,"v":185.3},{"c":2,"p":408,"v":181.1},{"c":2,"p":411.7,"v":174.6},{"c":2,"p":415,"v":174},{"c":2,"p":419,"v":173.9},{"c":2,"p":421,"v":168.2},{"c":2,"p":423,"v":167.5},{"c":2,"p":426,"v":168.9},{"c":2,"p":429,"v":169},{"c":2,"p":434,"v":168.2},{"c":2,"p":436,"v":168.2},{"c":2,"p":440,"v":165.4},{"c":2,"p":443,"v":164.6},{"c":2,"p":447,"v":165.7},{"c":2,"p":449.5,"v":165.4},{"c":2,"p":451,"v":156.8},{"c":2,"p":453,"v":152.5},{"c":2,"p":455,"v":148.2},{"c":2,"p":457,"v":141.8},{"c":2,"p":459,"v":144.7},{"c":2,"p":461,"v":142.5},{"c":2,"p":463,"v":144},{"c":2,"p":465,"v":142.5},{"c":2,"p":467,"v":144.7},{"c":2,"p":469,"v":131.1},{"c":2,"p":471,"v":126.1},{"c":2,"p":474,"v":124},{"c":2,"p":477,"v":121.8},{"c":2,"p":481,"v":119.7},{"c":2,"p":484,"v":117.6},{"c":2,"p":488,"v":116.9},{"c":2,"p":491,"v":114},{"c":2,"p":495,"v":112.9},{"c":2,"p":499.7,"v":112.2}
]
},
"encoding": {
  "y": {"field": "p", "type": "quantitative",
    "scale": {"domain": [0, 1100], "reverse": true, "nice": false, "zero": false},
    "axis": {
      "values": [0,20,40,60,80,100,120,140,160,180,200,220,240,260,280,300,320,340,360,380,400,420,440,460,480,500,520,540,560,580,600,620,640,660,680,700,720,740,760,780,800,820,840,860,880,900,920,940,960,980,1000,1020,1040,1060,1080,1100],
      "labelExpr": "datum.value % 100 === 0 ? format(datum.value, ',') : ''",
      "tickSize": {"condition": {"test": "datum.value % 100 === 0", "value": 14}, "value": -15},
      "grid": true, "gridColor": "black", "gridWidth": 2,
      "gridOpacity": {"condition": {"test": "datum.value % 100 === 0", "value": 1}, "value": 0},
      "domainWidth": 3, "labelPadding": 4, "labelColor": "black",
      "title": "Pressure, Digiquartz [db]", "titleColor": "black", "titlePadding": 7
    }
  }
},
"layer": [
  {"data": {"name": "bottles"}, "mark": {"type": "rule", "color": "#333333", "strokeWidth": 1.3}, "encoding": {}},
  {"data": {"name": "bottles"}, "mark": {"type": "text", "align": "left", "baseline": "middle", "dy": 17, "fontSize": 30, "font": "Liberation Sans", "color": "black"},
   "encoding": {"x": {"datum": 0.95, "type": "quantitative", "scale": {"domain": [0, 30], "nice": false}, "axis": null}, "text": {"field": "b"}}},
  {"data": {"name": "fl"}, "mark": {"type": "line", "color": "#00ff00", "strokeWidth": 2.2, "clip": true},
   "encoding": {"x": {"field": "v", "type": "quantitative", "scale": {"domain": [0, 1.5], "nice": false, "zero": false},
      "axis": {"orient": "top", "values": [0,0.06,0.12,0.18,0.24,0.3,0.36,0.42,0.48,0.54,0.6,0.66,0.72,0.78,0.84,0.9,0.96,1.02,1.08,1.14,1.2,1.26,1.32,1.38,1.44,1.5], "tickSize": -16, "labels": false, "title": null, "domain": true}},
    "detail": {"field": "c", "type": "nominal"}, "order": {"field": "p", "type": "quantitative"}}},
  {"data": {"values": [{"p": 0, "v": 0}]}, "mark": {"type": "point", "opacity": 0},
   "encoding": {"x": {"field": "v", "type": "quantitative", "scale": {"domain": [0, 1.5], "nice": false, "zero": false},
      "axis": {"orient": "top", "values": [0,0.3,0.6,0.9,1.2,1.5], "format": ".3f", "tickSize": 17, "domain": false, "labelColor": "#00ff00", "labelBaseline": "alphabetic", "labelPadding": 1, "title": "Fluorescence, WET Labs ECO-AFL/FL [mg/m^3]", "titleColor": "#00ff00", "titlePadding": 3}}}},
  {"data": {"name": "sa"}, "mark": {"type": "line", "color": "#804000", "strokeWidth": 2.2, "clip": true},
   "encoding": {"x": {"field": "v", "type": "quantitative", "scale": {"domain": [34, 36], "nice": false, "zero": false},
      "axis": {"orient": "bottom", "offset": 98, "values": [34,34.1,34.2,34.3,34.4,34.5,34.6,34.7,34.8,34.9,35,35.1,35.2,35.3,35.4,35.5,35.6,35.7,35.8,35.9,36], "tickSize": -16, "labels": false, "title": null, "domain": true}},
    "detail": {"field": "c", "type": "nominal"}, "order": {"field": "p", "type": "quantitative"}}},
  {"data": {"values": [{"p": 0, "v": 34}]}, "mark": {"type": "point", "opacity": 0},
   "encoding": {"x": {"field": "v", "type": "quantitative", "scale": {"domain": [34, 36], "nice": false, "zero": false},
      "axis": {"orient": "bottom", "offset": 98, "values": [34,35,36], "format": ".3f", "tickSize": 20, "domain": false, "labelColor": "#804000", "labelPadding": 3, "title": "Salinity, Practical [PSU]", "titleColor": "#804000", "titlePadding": 2}}}},
  {"data": {"name": "te"}, "mark": {"type": "line", "color": "#ff0000", "strokeWidth": 2.2, "clip": true},
   "encoding": {"x": {"field": "v", "type": "quantitative", "scale": {"domain": [0, 30], "nice": false, "zero": false},
      "axis": {"orient": "bottom", "values": [0,1,2,3,4,5,6,7,8,9,10,11,12,13,14,15,16,17,18,19,20,21,22,23,24,25,26,27,28,29,30], "tickSize": -16, "labels": false, "title": null, "domain": true}},
    "detail": {"field": "c", "type": "nominal"}, "order": {"field": "p", "type": "quantitative"}}},
  {"data": {"values": [{"p": 0, "v": 0}]}, "mark": {"type": "point", "opacity": 0},
   "encoding": {"x": {"field": "v", "type": "quantitative", "scale": {"domain": [0, 30], "nice": false, "zero": false},
      "axis": {"orient": "bottom", "values": [0,5,10,15,20,25,30], "format": "d", "tickSize": 18, "domain": false, "grid": true, "gridColor": "black", "gridWidth": 2, "labelColor": "#ff0000", "labelPadding": 6, "title": "Temperature [ITS-90, deg C]", "titleColor": "#ff0000", "titlePadding": 3}}}},
  {"data": {"name": "ox"}, "mark": {"type": "line", "color": "#0000ff", "strokeWidth": 2.2, "clip": true},
   "encoding": {"x": {"field": "v", "type": "quantitative", "scale": {"domain": [0, 250], "nice": false, "zero": false},
      "axis": {"orient": "top", "offset": 98, "values": [0,10,20,30,40,50,60,70,80,90,100,110,120,130,140,150,160,170,180,190,200,210,220,230,240,250], "tickSize": -17, "labels": false, "title": null, "domain": true}},
    "detail": {"field": "c", "type": "nominal"}, "order": {"field": "p", "type": "quantitative"}}},
  {"data": {"values": [{"p": 0, "v": 0}]}, "mark": {"type": "point", "opacity": 0},
   "encoding": {"x": {"field": "v", "type": "quantitative", "scale": {"domain": [0, 250], "nice": false, "zero": false},
      "axis": {"orient": "top", "offset": 98, "values": [0,50,100,150,200,250], "labelExpr": "datum.value < 100 ? format(datum.value, '.3f') : format(datum.value * 1000, ',')", "tickSize": 14, "domain": false, "labelColor": "#0000ff", "labelBaseline": "alphabetic", "labelPadding": 2, "title": "Oxygen, SBE 43 [umol/Kg]", "titleColor": "#0000ff", "titlePadding": 3}}}}
],
"resolve": {"scale": {"x": "independent"}, "axis": {"x": "independent"}}
}
